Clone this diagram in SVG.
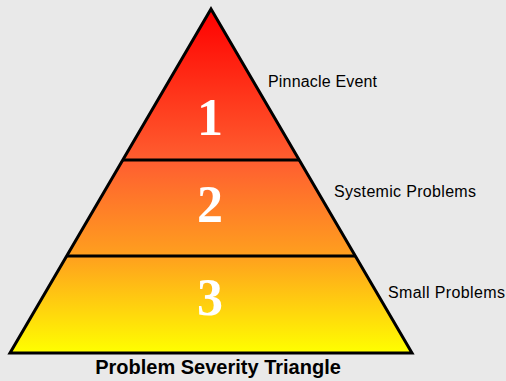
<svg xmlns="http://www.w3.org/2000/svg" width="506" height="381" viewBox="0 0 506 381">
<defs>
<linearGradient id="g" x1="0" y1="9" x2="0" y2="353" gradientUnits="userSpaceOnUse">
<stop offset="0" stop-color="#ff0000"/>
<stop offset="0.45" stop-color="#ff6030"/>
<stop offset="0.72" stop-color="#ffa01e"/>
<stop offset="1" stop-color="#ffff00"/>
</linearGradient>
<style>
.num{font-family:"Liberation Serif",serif;font-weight:bold;font-size:52px;fill:#fff;text-anchor:middle}
.lbl{font-family:"Liberation Sans",Arial,sans-serif;font-size:16px;fill:#000}
.ln{stroke:#000;stroke-width:3;fill:none}
</style>
</defs>
<rect width="506" height="381" fill="#e9e9e9"/>
<g id="triangle">
<polygon points="211,9 412,353 10,353" fill="url(#g)" stroke="#000" stroke-width="3" stroke-linejoin="miter"/>
</g>
<g id="connectors">
<line class="ln" x1="123" y1="160" x2="299" y2="160"/>
<line class="ln" x1="67" y1="256" x2="355" y2="256"/>
</g>
<g id="level1"><text class="num" x="210" y="135">1</text></g>
<g id="level2"><text class="num" x="210" y="222">2</text></g>
<g id="level3"><text class="num" x="210" y="315">3</text></g>
<g id="label1"><text class="lbl" x="268" y="87" textLength="109">Pinnacle Event</text></g>
<g id="label2"><text class="lbl" x="334" y="197" textLength="142">Systemic Problems</text></g>
<g id="label3"><text class="lbl" x="388" y="298" textLength="117">Small Problems</text></g>
<g id="title"><text x="218" y="374" text-anchor="middle" font-family="Liberation Sans,Arial,sans-serif" font-weight="bold" font-size="20" fill="#000">Problem Severity Triangle</text></g>
</svg>
